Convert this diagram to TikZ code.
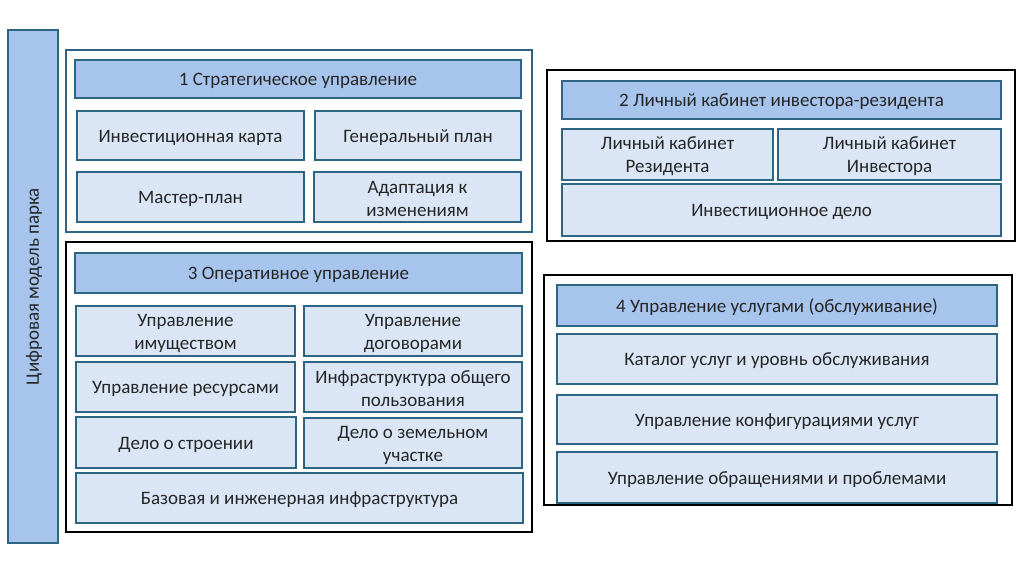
\documentclass[tikz,border=0pt]{standalone}
\usepackage{fontspec}
\setmainfont{Carlito}
\definecolor{bord}{HTML}{2E6582}
\definecolor{hdr}{HTML}{A7C4EC}
\definecolor{cell}{HTML}{DAE5F5}
\newcommand\bx[7]{\node[#1, minimum width={#4-#2}, minimum height={#5-#3}] (#6) at ({(#2+#4)/2},{-(#3+#5)/2}) {};
  \node[txt] (#6-t) at ([yshift=-2]#6.center) {#7};}
\begin{document}
\begin{tikzpicture}[x=1pt,y=1pt,
  every node/.style={inner sep=0pt, outer sep=0pt},
  txt/.style={font=\fontsize{19}{23}\selectfont, align=center, text=black!85},
  hdrbox/.style={draw=bord, line width=2pt, fill=hdr},
  cellbox/.style={draw=bord, line width=2pt, fill=cell},
  tealframe/.style={draw=bord, line width=2pt, fill=white},
  blackframe/.style={draw=black, line width=2pt, fill=white}]
\useasboundingbox[fill=white] (0,0) rectangle (1024,-574);
% left bar
\node[hdrbox, minimum width=50, minimum height=513] (bar) at (33,-286.5) {};
\node[txt, rotate=90] (bartext) at ([xshift=1]bar.center) {Цифровая модель парка};
% block 1
\bx{tealframe}{66}{50}{532}{232}{f1}{}
\bx{hdrbox}{75}{60}{521}{98}{h1}{1 Стратегическое управление}
\bx{cellbox}{77}{111}{304}{160}{c11}{Инвестиционная карта}
\bx{cellbox}{315}{111}{521}{160}{c12}{Генеральный план}
\bx{cellbox}{77}{172}{304}{222}{c13}{Мастер-план}
\bx{cellbox}{314}{172}{521}{222}{c14}{Адаптация к\\изменениям}
% block 3
\bx{blackframe}{66}{242}{532}{532}{f3}{}
\bx{hdrbox}{75}{253}{522}{293}{h3}{3 Оперативное управление}
\bx{cellbox}{76}{306}{295}{356}{c31}{Управление\\имуществом}
\bx{cellbox}{304}{306}{522}{356}{c32}{Управление\\договорами}
\bx{cellbox}{76}{362}{295}{412}{c33}{Управление ресурсами}
\bx{cellbox}{304}{362}{522}{412}{c34}{Инфраструктура общего\\пользования}
\bx{cellbox}{76}{417}{296}{468}{c35}{Дело о строении}
\bx{cellbox}{304}{418}{522}{468}{c36}{Дело о земельном\\участке}
\bx{cellbox}{76}{473}{523}{523}{c37}{Базовая и инженерная инфраструктура}
% block 2
\bx{blackframe}{547}{70}{1015}{241}{f2}{}
\bx{hdrbox}{562}{81}{1001}{119}{h2}{2 Личный кабинет инвестора-резидента}
\bx{cellbox}{562}{129}{773}{180}{c21}{Личный кабинет\\Резидента}
\bx{cellbox}{778}{129}{1001}{180}{c22}{Личный кабинет\\Инвестора}
\bx{cellbox}{562}{184}{1001}{236}{c23}{Инвестиционное дело}
% block 4
\bx{blackframe}{544}{275}{1012}{505}{f4}{}
\bx{hdrbox}{557}{285}{997}{326}{h4}{4 Управление услугами (обслуживание)}
\bx{cellbox}{557}{334}{997}{384}{c41}{Каталог услуг и уровнь обслуживания}
\bx{cellbox}{557}{395}{997}{444}{c42}{Управление конфигурациями услуг}
\bx{cellbox}{557}{452}{997}{503}{c43}{Управление обращениями и проблемами}
\end{tikzpicture}
\end{document}
